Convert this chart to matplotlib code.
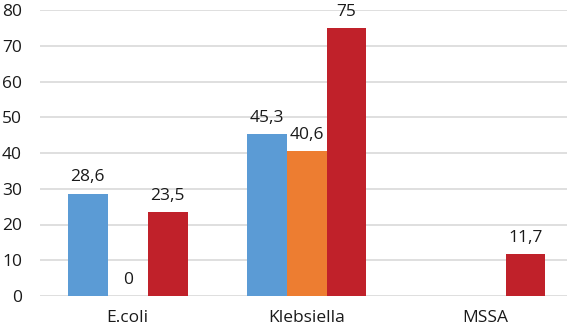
import numpy as np
import matplotlib
matplotlib.use("Agg")
import matplotlib.pyplot as plt

categories = ["E.coli", "Klebsiella", "MSSA"]
series1 = [28.6, 45.3, np.nan]
series2 = [0, 40.6, np.nan]
series3 = [23.5, 75, 11.7]
colors = ["#5B9BD5", "#ED7D31", "#C0212A"]
yticks = [0, 10, 20, 30, 40, 50, 60, 70, 80]

plt.rcParams['font.family'] = ['Open Sans', 'DejaVu Sans']

fig = plt.figure(figsize=(5.67, 3.28), dpi=100)
ax = fig.add_axes([40/567, 32/328, 527/567, 286/328])

x = np.arange(len(categories))
w = 0.223
for i, (vals, c) in enumerate(zip([series1, series2, series3], colors)):
    pos = x + (i - 1) * w
    ax.bar(pos, vals, width=w, color=c, zorder=3)
    for p, v in zip(pos, vals):
        if not np.isnan(v):
            ax.annotate(f"{v:g}".replace(".", ","), (p, v), xytext=(0, 6),
                        textcoords="offset points", ha="center", va="bottom",
                        fontsize=12.5, color="#1a1a1a", zorder=4)

ax.set_xlim(-0.49, 2.455)
ax.set_ylim(0, 80)
ax.set_yticks(yticks)
ax.set_yticklabels([str(t) for t in yticks], fontsize=12.5, color="#1a1a1a")
ax.set_xticks(x)
ax.set_xticklabels(categories, fontsize=12.5, color="#1a1a1a")
ax.tick_params(axis="both", length=0)
ax.tick_params(axis="y", pad=13)
ax.tick_params(axis="x", pad=10)
ax.yaxis.grid(True, color="#D9D9D9", linewidth=1.2, zorder=0)
for s in ax.spines.values():
    s.set_visible(False)

fig.savefig("out.png", dpi=100)
